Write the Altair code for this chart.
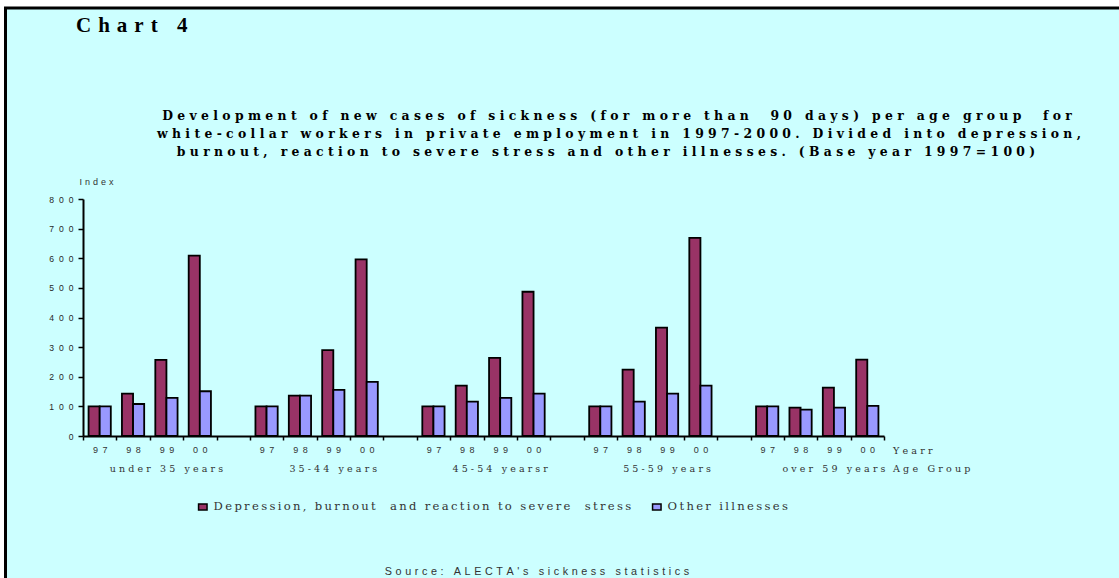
import json

import altair as alt
import pandas as pd

# ---- data -------------------------------------------------------------
groups = ["under 35 years", "35-44 years", "45-54 yearsr", "55-59 years", "over 59 years"]
years = ["97", "98", "99", "00"]
series = ["Depression, burnout  and reaction to severe  stress", "Other illnesses"]

# index values (1997 = 100), listed group by group, years 97..00
depression = [100, 143, 257, 609,
              100, 136, 290, 596,
              100, 170, 264, 487,
              100, 224, 366, 669,
              100, 96, 163, 258]
other = [100, 108, 129, 151,
         100, 136, 156, 183,
         100, 116, 129, 143,
         100, 116, 143, 170,
         100, 89, 96, 102]

y_ticks = [0, 100, 200, 300, 400, 500, 600, 700, 800]
bar_colors = ["#993366", "#9999FF"]

title_lines = [
    "Development of new cases of sickness (for more than  90 days) per age group  for",
    "white-collar workers in private employment in 1997-2000. Divided into depression,",
    "burnout, reaction to severe stress and other illnesses. (Base year 1997=100)",
]
chart_label = "Chart 4"
source_note = "Source: ALECTA's sickness statistics"
year_axis_name = "Yearr"
group_axis_name = "Age Group"
y_axis_name = "Index"

# ---- helpers ----------------------------------------------------------
NBSP = "\u00a0"
HAIR = "\u200a"
THIN = "\u2009"
FOUR = "\u2005"
THREE = "\u2004"
EN = "\u2002"


def spread(text, gap):
    """Letter-space a string by putting a narrow space between characters."""
    return gap.join(NBSP if ch == " " else ch for ch in text)


# category slots: four years per age group, an empty slot between groups
slots = []
for gi, g in enumerate(groups):
    for yr in years:
        slots.append(f"{g}|{yr}")
    if gi < len(groups) - 1:
        slots.append(f"gap{gi}")

rows = []
for gi, g in enumerate(groups):
    for yi, yr in enumerate(years):
        k = gi * len(years) + yi
        rows.append({"group": g, "year": yr, "slot": f"{g}|{yr}", "series": series[0], "value": depression[k]})
        rows.append({"group": g, "year": yr, "slot": f"{g}|{yr}", "series": series[1], "value": other[k]})
df = pd.DataFrame(rows)

year_label_map = {f"{g}|{yr}": spread(yr, EN) for g in groups for yr in years}
legend_label_map = {s: spread(s, THIN) for s in series}

x_scale = alt.Scale(domain=slots, paddingInner=0, paddingOuter=0)

SERIF = "DejaVu Serif"
TIMES = "Liberation Serif"
SANS = "Liberation Sans"
INK = "#333333"

W, H = 801, 237
PAD = {"left": 83, "top": 199, "right": 1119 - 83 - W, "bottom": 578 - 199 - H}

# ---- panel with frame ----------------------------------------------------
panel = alt.Chart(pd.DataFrame({"k": [0]})).mark_rect(
    fill="#CCFFFF", stroke="black", strokeWidth=3
).encode(
    x=alt.value(5.5 - PAD["left"]),
    x2=alt.value(1119 + 20 - PAD["left"]),
    y=alt.value(8 - PAD["top"]),
    y2=alt.value(578 + 20 - PAD["top"]),
)

# ---- bars ---------------------------------------------------------------
bars = alt.Chart(df).mark_bar(stroke="black", strokeWidth=1.8).encode(
    x=alt.X(
        "slot:N",
        scale=x_scale,
        sort=slots,
        axis=alt.Axis(
            title=None,
            zindex=1,
            labelExpr=json.dumps(year_label_map, ensure_ascii=False) + "[datum.value] || ''",
            labelAngle=0,
            labelFont=SANS,
            labelFontSize=9,
            labelColor=INK,
            labelPadding=5,
            tickBand="extent",
            tickSize=4,
            tickWidth=1.5,
            tickColor="black",
            domainColor="black",
            domainWidth=2,
            grid=False,
        ),
    ),
    xOffset=alt.XOffset(
        "series:N",
        scale=alt.Scale(domain=series, paddingInner=0, paddingOuter=0.5),
        sort=series,
    ),
    y=alt.Y(
        "value:Q",
        scale=alt.Scale(domain=[0, 800], nice=False),
        axis=alt.Axis(
            zindex=1,
            values=y_ticks,
            labelExpr="join(split(datum.label, ''), '" + EN + HAIR + "')",
            labelFont=SANS,
            labelFontSize=8.6,
            labelColor="#262626",
            labelPadding=5,
            tickSize=5,
            tickWidth=1.5,
            tickColor="black",
            domainColor="black",
            domainWidth=2,
            grid=False,
            title=spread(y_axis_name, THREE),
            titleAngle=0,
            titleFont=SANS,
            titleFontSize=9,
            titleFontWeight="normal",
            titleColor=INK,
            titleAlign="left",
            titleBaseline="middle",
            titleX=-4,
            titleY=-18,
        ),
    ),
    color=alt.Color(
        "series:N",
        scale=alt.Scale(domain=series, range=bar_colors),
        sort=series,
        legend=alt.Legend(
            title=None,
            orient="none",
            legendX=114,
            legendY=302,
            direction="horizontal",
            symbolType="M-1,-0.7H1V0.7H-1Z",
            symbolSize=72,
            symbolStrokeColor="black",
            symbolStrokeWidth=1.5,
            symbolOpacity=1,
            labelFont=SERIF,
            labelFontSize=11.6,
            labelColor=INK,
            labelOffset=5,
            labelLimit=0,
            columnPadding=17,
            labelExpr=json.dumps(legend_label_map, ensure_ascii=False) + "[datum.label]",
        ),
    ),
)

# ---- age-group names under each block -------------------------------------
group_df = pd.DataFrame({
    "slot": [f"{g}|99" for g in groups],
    "label": [spread(g, THREE) for g in groups],
})
group_text = alt.Chart(group_df).mark_text(
    font=SERIF, fontSize=9.5, color=INK, baseline="middle", align="center"
).encode(
    x=alt.X("slot:N", scale=x_scale, sort=slots),
    y=alt.value(269.5),
    text="label:N",
)


def note(text, x, y, font, size, weight="normal", align="left", color=INK,
         baseline="middle"):
    return alt.Chart(pd.DataFrame({"t": [text]})).mark_text(
        font=font, fontSize=size, fontWeight=weight, color=color,
        align=align, baseline=baseline,
    ).encode(x=alt.value(x), y=alt.value(y), text="t:N")


year_name = note(spread(year_axis_name, THREE), 810, 252, SERIF, 9.6)
group_name = note(spread(group_axis_name, THREE), 810, 269.5, SERIF, 9.6)
chart_name = note(spread(chart_label, FOUR + HAIR), 76 - PAD["left"], 26 - PAD["top"],
                  TIMES, 21, "bold", color="black")
source = note(spread(source_note, FOUR + HAIR), 537 - PAD["left"], 572 - PAD["top"],
              SANS, 10.8, align="center")

# three heading lines, each centred on its own midpoint
line_centres = [617, 619, 606]
line_middles = [116, 134, 152]
heading = [
    note(spread(t, FOUR + HAIR), cx - PAD["left"], cy - PAD["top"], SERIF, 12.4, "bold",
         align="center", color="black")
    for t, cx, cy in zip(title_lines, line_centres, line_middles)
]

chart = alt.layer(
    panel, bars, group_text, year_name, group_name, chart_name, *heading, source
).properties(
    width=W,
    height=H,
    padding=PAD,
    autosize=alt.AutoSizeParams(type="none"),
    background="white",
).configure_view(stroke=None)

chart.save("out.html", embed_options={"renderer": "svg", "actions": False})
